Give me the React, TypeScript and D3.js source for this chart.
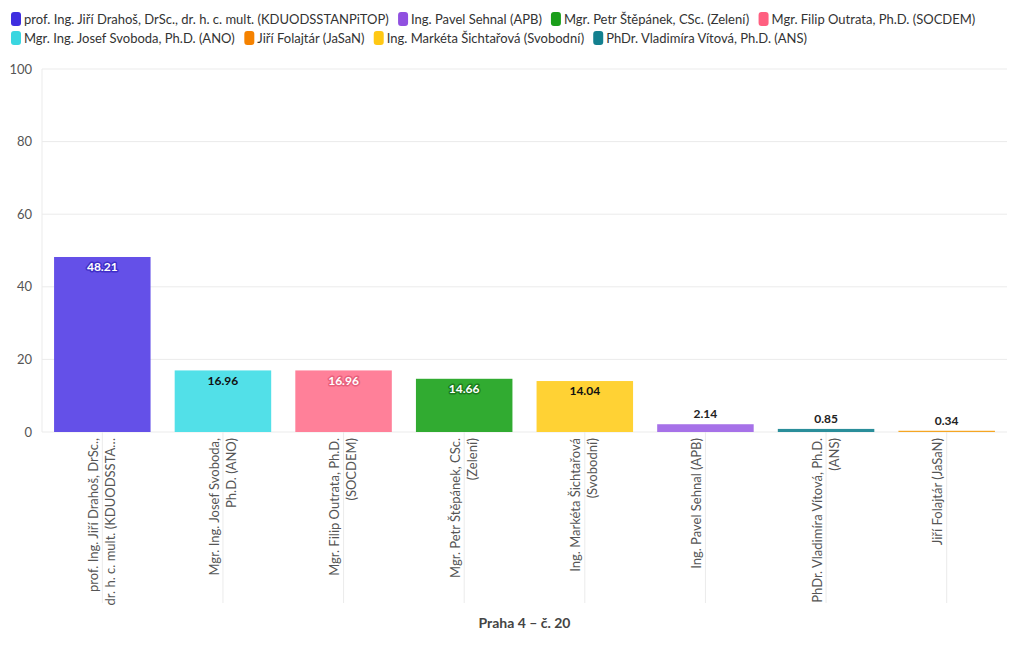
import React from "react";
import * as d3 from "d3";

const categories = [
  "prof. Ing. Jiří Drahoš, DrSc., dr. h. c. mult. (KDUODSSTANPiTOP)",
  "Mgr. Ing. Josef Svoboda, Ph.D. (ANO)",
  "Mgr. Filip Outrata, Ph.D. (SOCDEM)",
  "Mgr. Petr Štěpánek, CSc. (Zelení)",
  "Ing. Markéta Šichtařová (Svobodní)",
  "Ing. Pavel Sehnal (APB)",
  "PhDr. Vladimíra Vítová, Ph.D. (ANS)",
  "Jiří Folajtár (JaSaN)",
];
const axisLabelLines = [
  ["prof. Ing. Jiří Drahoš, DrSc.,", "dr. h. c. mult. (KDUODSSTA…"],
  ["Mgr. Ing. Josef Svoboda,", "Ph.D. (ANO)"],
  ["Mgr. Filip Outrata, Ph.D.", "(SOCDEM)"],
  ["Mgr. Petr Štěpánek, CSc.", "(Zelení)"],
  ["Ing. Markéta Šichtařová", "(Svobodní)"],
  ["Ing. Pavel Sehnal (APB)"],
  ["PhDr. Vladimíra Vítová, Ph.D.", "(ANS)"],
  ["Jiří Folajtár (JaSaN)"],
];
const values = [48.21, 16.96, 16.96, 14.66, 14.04, 2.14, 0.85, 0.34];
const barColors = ["#6450e8", "#52e0e8", "#ff8099", "#31ab31", "#ffd234", "#a671e8", "#2a8e9a", "#f5a623"];
const labelFill = ["#ffffff", "#111111", "#ffffff", "#ffffff", "#111111", "#222222", "#222222", "#222222"];
const labelHalo = ["#3f2ec8", "#52e0e8", "#e8607c", "#1d7d1d", "#ffd234", "#ffffff", "#ffffff", "#ffffff"];

const legendNames = [
  "prof. Ing. Jiří Drahoš, DrSc., dr. h. c. mult. (KDUODSSTANPiTOP)",
  "Ing. Pavel Sehnal (APB)",
  "Mgr. Petr Štěpánek, CSc. (Zelení)",
  "Mgr. Filip Outrata, Ph.D. (SOCDEM)",
  "Mgr. Ing. Josef Svoboda, Ph.D. (ANO)",
  "Jiří Folajtár (JaSaN)",
  "Ing. Markéta Šichtařová (Svobodní)",
  "PhDr. Vladimíra Vítová, Ph.D. (ANS)",
];
const legendColors = ["#3f2ee0", "#9050e0", "#1a9e1a", "#ff5f80", "#3ad6e0", "#f58200", "#ffc814", "#13808f"];

const yTicks = [0, 20, 40, 60, 80, 100];
const axisTitle = "Praha 4 – č. 20";

const FONT = "Lato, 'Open Sans', sans-serif";
const W = 1020;
const H = 650;
const M = { left: 42, right: 13, top: 69, bottom: 218 };

function measure(text: string, font: string): number {
  const c = document.createElement("canvas");
  const ctx = c.getContext("2d");
  if (!ctx) return text.length * 6;
  ctx.font = font;
  return ctx.measureText(text).width;
}

export default function App() {
  const x = d3
    .scaleBand<string>()
    .domain(categories)
    .range([M.left, W - M.right])
    .paddingInner(0.2)
    .paddingOuter(0.1);
  const y = d3.scaleLinear().domain([0, 100]).range([H - M.bottom, M.top]);

  // legend layout
  const legendFont = `13px ${FONT}`;
  const items: { x: number; y: number; name: string; color: string }[] = [];
  let lx = 11;
  let ly = 19;
  legendNames.forEach((name, i) => {
    const w = 13 + measure(name, legendFont) + 9;
    if (lx + w > W - 10) {
      lx = 11;
      ly += 19;
    }
    items.push({ x: lx, y: ly, name, color: legendColors[i] });
    lx += w;
  });

  const baseY = y(0);

  return (
    <svg width={W} height={H} style={{ position: "absolute", left: 0, top: 0, background: "#fff" }} fontFamily={FONT}>
      {/* legend */}
      {items.map((it, i) => (
        <g key={i}>
          <rect x={it.x} y={it.y - 7} width={10} height={14} rx={3} fill={it.color} />
          <text x={it.x + 13} y={it.y} dy="0.35em" fontSize={13} fill="#333">
            {it.name}
          </text>
        </g>
      ))}
      {/* grid */}
      {yTicks.map((t) => (
        <g key={t}>
          <line x1={M.left} x2={W - M.right} y1={y(t)} y2={y(t)} stroke="#ebebeb" />
          <text x={M.left - 10} y={y(t)} dy="0.35em" textAnchor="end" fontSize={13} fill="#555">
            {t}
          </text>
        </g>
      ))}
      <line x1={M.left} x2={M.left} y1={y(100)} y2={baseY} stroke="#ebebeb" />
      {/* category tick lines */}
      {categories.map((c) => {
        const cx = (x(c) as number) + x.bandwidth() / 2;
        return <line key={c} x1={cx} x2={cx} y1={baseY} y2={603} stroke="#ebebeb" />;
      })}
      {/* bars */}
      {categories.map((c, i) => (
        <rect
          key={c}
          x={x(c)}
          y={y(values[i])}
          width={x.bandwidth()}
          height={Math.max(1, baseY - y(values[i]))}
          fill={barColors[i]}
        />
      ))}
      {/* value labels */}
      {categories.map((c, i) => {
        const cx = (x(c) as number) + x.bandwidth() / 2;
        const inside = baseY - y(values[i]) > 25;
        const ty = inside ? y(values[i]) + 10 : y(values[i]) - 10;
        return (
          <text
            key={c}
            x={cx}
            y={ty}
            dy="0.35em"
            textAnchor="middle"
            fontSize={12}
            fontWeight="bold"
            fill={labelFill[i]}
            stroke={labelHalo[i]}
            strokeWidth={3}
            strokeLinejoin="round"
            style={{ paintOrder: "stroke" }}
          >
            {values[i].toFixed(2)}
          </text>
        );
      })}
      {/* x axis labels */}
      {categories.map((c, i) => {
        const cx = (x(c) as number) + x.bandwidth() / 2;
        const lines = axisLabelLines[i];
        return (
          <g key={c} transform={`translate(${cx},${baseY + 6}) rotate(-90)`}>
            {lines.map((ln, j) => (
              <text key={j} x={0} y={-9 + j * 17} dy="0.35em" textAnchor="end" fontSize={13} fill="#555">
                {ln}
              </text>
            ))}
          </g>
        );
      })}
      <text x={(M.left + W - M.right) / 2} y={623} dy="0.35em" textAnchor="middle" fontSize={14} fontWeight="bold" fill="#444">
        {axisTitle}
      </text>
    </svg>
  );
}
